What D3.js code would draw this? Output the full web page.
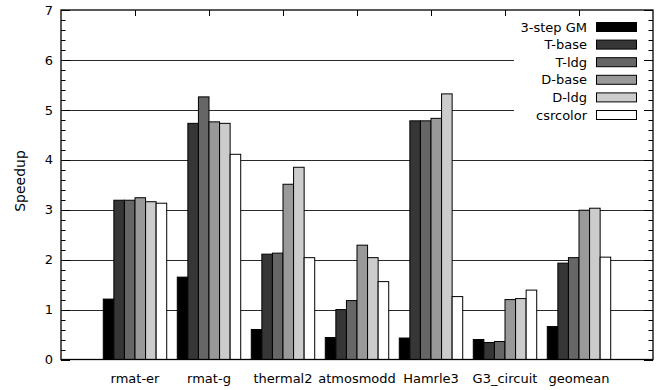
<!DOCTYPE html>
<html>
<head>
<meta charset="utf-8">
<script src="https://cdn.jsdelivr.net/npm/d3@7"></script>
<style>
  body { margin: 0; background: #fff; }
  text { font-family: "DejaVu Sans", sans-serif; font-size: 13px; fill: #000; }
</style>
</head>
<body>
<script>
// data
var categories = ['rmat-er', 'rmat-g', 'thermal2', 'atmosmodd', 'Hamrle3', 'G3_circuit', 'geomean'];
var seriesNames = ['3-step GM', 'T-base', 'T-ldg', 'D-base', 'D-ldg', 'csrcolor'];
var seriesColors = ['#000000', '#363636', '#666666', '#999999', '#cccccc', '#ffffff'];
var gm3step  = [1.21, 1.65, 0.60, 0.44, 0.43, 0.40, 0.66];
var tBase    = [3.19, 4.73, 2.11, 1.00, 4.78, 0.34, 1.93];
var tLdg     = [3.19, 5.26, 2.13, 1.18, 4.78, 0.36, 2.04];
var dBase    = [3.24, 4.76, 3.51, 2.29, 4.83, 1.20, 2.99];
var dLdg     = [3.16, 4.73, 3.85, 2.04, 5.32, 1.22, 3.03];
var csrcolor = [3.13, 4.11, 2.04, 1.56, 1.26, 1.39, 2.05];
var yTicks = [0, 1, 2, 3, 4, 5, 6, 7];

var series = [gm3step, tBase, tLdg, dBase, dLdg, csrcolor];

const width = 663, height = 390;
const margin = {top: 10, right: 10, bottom: 30.5, left: 61};

const svg = d3.select('body').append('svg')
  .attr('width', width).attr('height', height);

// group centers: slots of 7 bar widths, range -1..7
var x = d3.scaleLinear().domain([-1, 7]).range([margin.left, width - margin.right]);
var slot = x(1) - x(0);
var xIn = d3.scaleBand().domain(d3.range(seriesNames.length))
  .range([-slot * 3 / 7, slot * 3 / 7]).padding(0);

var y = d3.scaleLinear().domain([0, 7]).range([height - margin.bottom, margin.top]);

// grid
svg.append('g').selectAll('line')
  .data(yTicks.filter(d => d > 0 && d < 7))
  .enter().append('line')
  .attr('x1', margin.left).attr('x2', width - margin.right)
  .attr('y1', d => Math.round(y(d)) + 0.5).attr('y2', d => Math.round(y(d)) + 0.5)
  .attr('stroke', '#2a2a2a').attr('stroke-width', 1);

// legend background (opaque key)
svg.append('rect')
  .attr('x', 514).attr('y', margin.top)
  .attr('width', width - margin.right - 514).attr('height', 116)
  .attr('fill', '#fff');

// bars
var groups = svg.append('g').selectAll('g')
  .data(categories)
  .enter().append('g')
  .attr('transform', (d, i) => `translate(${x(i)},0)`);

groups.selectAll('rect')
  .data((d, i) => series.map((s, k) => ({k: k, v: s[i]})))
  .enter().append('rect')
  .attr('x', d => xIn(d.k))
  .attr('y', d => y(d.v))
  .attr('width', xIn.bandwidth())
  .attr('height', d => y(0) - y(d.v))
  .attr('fill', d => seriesColors[d.k])
  .attr('stroke', '#000')
  .attr('stroke-width', 1);

// frame
svg.append('rect')
  .attr('x', margin.left).attr('y', margin.top)
  .attr('width', width - margin.left - margin.right)
  .attr('height', height - margin.top - margin.bottom)
  .attr('fill', 'none').attr('stroke', '#000').attr('stroke-width', 1.3);

// left axis
var yAxis = svg.append('g')
  .attr('transform', `translate(${margin.left},0)`)
  .call(d3.axisLeft(y).tickValues(yTicks).tickFormat(d3.format('d')).tickSize(0).tickPadding(8));
yAxis.select('.domain').remove();
yAxis.selectAll('text').style('font-size', '13px');

// ticks major/minor, mirrored on right
var minor = d3.range(0, 7.01, 0.2);
var tk = svg.append('g').attr('stroke', '#000').attr('stroke-width', 1);
minor.forEach(function (v) {
  var isMajor = Math.abs(v - Math.round(v)) < 1e-6;
  var len = isMajor ? 9 : 4.5;
  var yy = Math.round(y(v)) + 0.5;
  tk.append('line').attr('x1', margin.left).attr('x2', margin.left + len).attr('y1', yy).attr('y2', yy);
  tk.append('line').attr('x1', width - margin.right).attr('x2', width - margin.right - len).attr('y1', yy).attr('y2', yy);
});
categories.forEach(function (c, i) {
  var xx = Math.round(x(i)) + 0.5;
  tk.append('line').attr('x1', xx).attr('x2', xx).attr('y1', margin.top).attr('y2', margin.top + 6);
});

// category labels
svg.append('g').selectAll('text')
  .data(categories)
  .enter().append('text')
  .attr('x', (d, i) => x(i))
  .attr('y', 383)
  .attr('text-anchor', 'middle')
  .text(d => d);

// y label
svg.append('text')
  .attr('transform', 'translate(25,181) rotate(-90)')
  .attr('text-anchor', 'middle')
  .style('font-size', '14px')
  .text('Speedup');

// legend
var legend = svg.append('g').selectAll('g')
  .data(seriesNames)
  .enter().append('g')
  .attr('transform', (d, i) => `translate(0,${27 + i * 17.6})`);
legend.append('text')
  .attr('x', 587).attr('y', 0).attr('dy', '0.35em')
  .attr('text-anchor', 'end')
  .text(d => d);
legend.append('rect')
  .attr('x', 596.5).attr('y', -4.5)
  .attr('width', 40).attr('height', 9)
  .attr('fill', (d, i) => seriesColors[i])
  .attr('stroke', '#000');
</script>
</body>
</html>
